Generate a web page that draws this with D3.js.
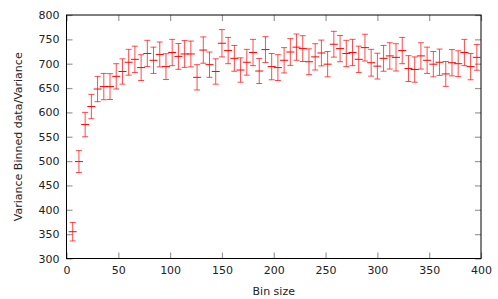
<!DOCTYPE html>
<html>
<head>
<meta charset="utf-8">
<script src="https://cdn.jsdelivr.net/npm/d3@7"></script>
<style>
  body { margin: 0; background: #fff; }
  text { font-family: "DejaVu Sans", sans-serif; font-size: 11px; fill: #222; }
</style>
</head>
<body>
<div id="container"></div>
<script>
// bin sizes 6, 12, ... 396
const binSizes = d3.range(6, 397, 6);

// variance ratio
const ratio = [
    355, 499, 575, 612, 648, 653, 653, 674, 684, 703,
    709, 692, 721, 707, 719, 694, 723, 715, 720, 720,
    672, 728, 698, 684, 742, 727, 711, 687, 703, 723,
    685, 729, 694, 692, 707, 724, 734, 731, 704, 714,
    722, 699, 740, 731, 721, 723, 709, 733, 702, 695,
    711, 716, 713, 727, 690, 688, 716, 707, 699, 703,
    679, 702, 700, 723, 694, 713
];

// half-length of error bars
const errors = [
    19, 22.5, 25, 25, 26, 27, 26.5, 26, 26, 26.5,
    27, 26.5, 27, 27, 25.5, 26.5, 27, 26.5, 27.5, 26.5,
    26, 27, 26, 26, 28, 27, 26.5, 25, 26.5, 27,
    25.7, 26.5, 27, 26.5, 26, 27.5, 27, 26.5, 26.5, 27,
    26.5, 26, 26.5, 27, 27, 27, 27, 27.5, 27.5, 26.5,
    26.5, 27, 28, 27, 26.5, 26, 27, 27, 26, 27,
    25.5, 27, 26.5, 27, 27, 26.5
];

const xTicks = d3.range(0, 401, 50);
const yTicks = d3.range(300, 801, 50);

const width = 498,
      height = 299,
      margin = { top: 15, bottom: 40.5, left: 66.5, right: 17 };

const data = binSizes.map((b, i) => ({ x: b, y: ratio[i], e: errors[i] }));

const svg = d3.select("#container").append("svg")
    .attr("width", width)
    .attr("height", height);

const x = d3.scaleLinear()
    .domain([0, 400])
    .range([margin.left, width - margin.right]);

const y = d3.scaleLinear()
    .domain([300, 800])
    .range([height - margin.bottom, margin.top]);

function styleAxis(g) {
    g.select(".domain").remove();
    g.selectAll(".tick line").attr("stroke", "#999").attr("stroke-width", 1.2);
}

// bottom axis with labels
svg.append("g")
    .attr("transform", `translate(0, ${y(300)})`)
    .call(d3.axisBottom(x).tickValues(xTicks).tickSizeInner(-6).tickSizeOuter(0).tickPadding(8))
    .call(styleAxis)
    .selectAll("text").attr("fill", "#222");

// top mirror ticks
svg.append("g")
    .attr("transform", `translate(0, ${y(800)})`)
    .call(d3.axisTop(x).tickValues(xTicks).tickSizeInner(-6).tickSizeOuter(0).tickFormat(""))
    .call(styleAxis);

// left axis with labels
svg.append("g")
    .attr("transform", `translate(${x(0)}, 0)`)
    .call(d3.axisLeft(y).tickValues(yTicks).tickSizeInner(-6).tickSizeOuter(0).tickPadding(7))
    .call(styleAxis)
    .selectAll("text").attr("fill", "#222");

// right mirror ticks
svg.append("g")
    .attr("transform", `translate(${x(400)}, 0)`)
    .call(d3.axisRight(y).tickValues(yTicks).tickSizeInner(-6).tickSizeOuter(0).tickFormat(""))
    .call(styleAxis);

svg.selectAll(".tick text").style("font-size", "11px").style("font-family", "DejaVu Sans, sans-serif");

// border
svg.append("rect")
    .attr("x", x(0))
    .attr("y", y(800))
    .attr("width", x(400) - x(0))
    .attr("height", y(300) - y(800))
    .attr("fill", "none")
    .attr("stroke", "#000")
    .attr("stroke-width", 1);

// error bars
const bars = svg.append("g")
    .attr("stroke", "#f00")
    .attr("stroke-width", 1)
    .selectAll("g")
    .data(data)
    .enter().append("g");

bars.append("line")
    .attr("stroke-opacity", 0.7)
    .attr("x1", d => x(d.x)).attr("x2", d => x(d.x))
    .attr("y1", d => y(d.y - d.e)).attr("y2", d => y(d.y + d.e));

bars.append("line")
    .attr("stroke-opacity", 0.7)
    .attr("x1", d => x(d.x) - 3).attr("x2", d => x(d.x) + 3)
    .attr("y1", d => y(d.y + d.e)).attr("y2", d => y(d.y + d.e));

bars.append("line")
    .attr("stroke-opacity", 0.7)
    .attr("x1", d => x(d.x) - 3).attr("x2", d => x(d.x) + 3)
    .attr("y1", d => y(d.y - d.e)).attr("y2", d => y(d.y - d.e));

// the "+" point marker
bars.append("line")
    .attr("x1", d => x(d.x) - 4).attr("x2", d => x(d.x) + 4)
    .attr("y1", d => y(d.y)).attr("y2", d => y(d.y));

// axis titles
svg.append("text")
    .attr("x", (x(0) + x(400)) / 2)
    .attr("y", 295)
    .attr("text-anchor", "middle")
    .text("Bin size");

svg.append("text")
    .attr("transform", `translate(22, ${(y(300) + y(800)) / 2}) rotate(-90)`)
    .attr("text-anchor", "middle")
    .text("Variance Binned data/Variance");
</script>
</body>
</html>
